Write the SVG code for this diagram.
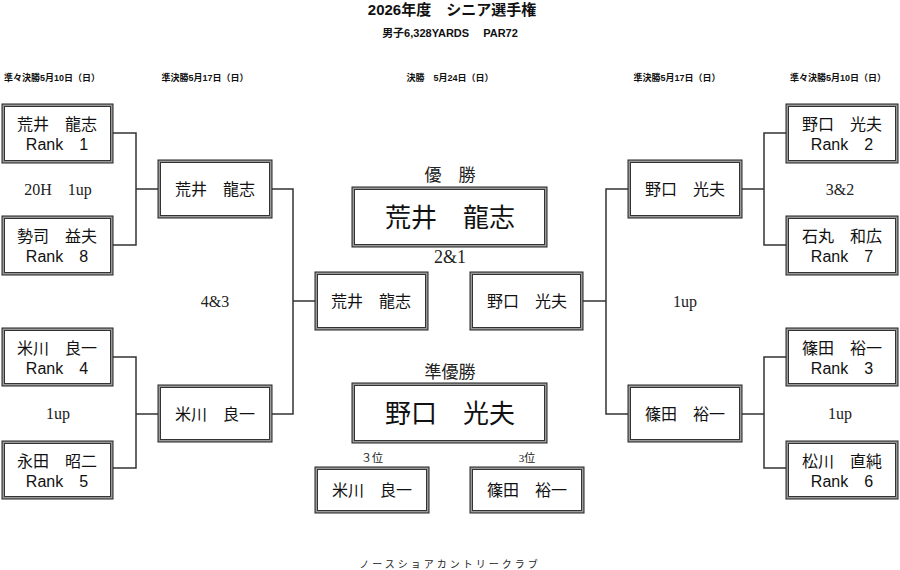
<svg xmlns="http://www.w3.org/2000/svg" width="900" height="570" viewBox="0 0 900 570">
<style>
.o{fill:#999;stroke:#222;stroke-width:1}
.i{fill:#fff;stroke:#333;stroke-width:1}
.n{font-family:"Liberation Sans","Noto Sans CJK JP",sans-serif;font-size:16px;fill:#111;text-anchor:middle}
.big{font-size:26px}
.h{font-family:"Liberation Sans","Noto Sans CJK JP",sans-serif;font-weight:bold;fill:#111;text-anchor:middle}
.s{font-family:"Liberation Serif","Noto Sans CJK JP",serif;fill:#222;text-anchor:middle}
.c{fill:none;stroke:#333;stroke-width:1.5}
</style>
<rect width="900" height="570" fill="#fff"/>
<text class="h" x="452" y="15" font-size="15">2026年度　シニア選手権</text>
<text class="h" x="450" y="37" font-size="11">男子6,328YARDS　 PAR72</text>
<text class="h" x="52" y="81" font-size="9">準々決勝5月10日（日）</text>
<text class="h" x="205" y="81" font-size="9">準決勝5月17日（日）</text>
<text class="h" x="450" y="81" font-size="9">決勝　5月24日（日）</text>
<text class="h" x="677" y="81" font-size="9">準決勝5月17日（日）</text>
<text class="h" x="838" y="81" font-size="9">準々決勝5月10日（日）</text>

<g id="connectors">
<path class="c" d="M113,133 H136 V245 H113 M136,189 H158"/>
<path class="c" d="M113,357 H136 V468 H113 M136,414 H158"/>
<path class="c" d="M272,189 H293 V414 H272 M293,301 H315"/>
<path class="c" d="M786,133 H764 V245 H786 M764,189 H742"/>
<path class="c" d="M786,357 H764 V468 H786 M764,414 H742"/>
<path class="c" d="M628,189 H606 V414 H628 M606,301 H583"/>
</g>

<g id="qf-l1"><rect class="o" x="2" y="104" width="111" height="59"/><rect class="i" x="4.5" y="106.5" width="106" height="54"/><text class="n" x="57" y="130">荒井　龍志</text><text class="n" x="57" y="150">Rank　1</text></g>
<g id="qf-l2"><rect class="o" x="2" y="216" width="111" height="59"/><rect class="i" x="4.5" y="218.5" width="106" height="54"/><text class="n" x="57" y="242">勢司　益夫</text><text class="n" x="57" y="262">Rank　8</text></g>
<g id="qf-l3"><rect class="o" x="2" y="328" width="111" height="58"/><rect class="i" x="4.5" y="330.5" width="106" height="53"/><text class="n" x="57" y="354">米川　良一</text><text class="n" x="57" y="374">Rank　4</text></g>
<g id="qf-l4"><rect class="o" x="2" y="441" width="111" height="58"/><rect class="i" x="4.5" y="443.5" width="106" height="53"/><text class="n" x="57" y="467">永田　昭二</text><text class="n" x="57" y="487">Rank　5</text></g>

<g id="qf-r1"><rect class="o" x="786" y="104" width="112" height="59"/><rect class="i" x="788.5" y="106.5" width="107" height="54"/><text class="n" x="842" y="130">野口　光夫</text><text class="n" x="842" y="150">Rank　2</text></g>
<g id="qf-r2"><rect class="o" x="786" y="216" width="112" height="59"/><rect class="i" x="788.5" y="218.5" width="107" height="54"/><text class="n" x="842" y="242">石丸　和広</text><text class="n" x="842" y="262">Rank　7</text></g>
<g id="qf-r3"><rect class="o" x="786" y="328" width="112" height="58"/><rect class="i" x="788.5" y="330.5" width="107" height="53"/><text class="n" x="842" y="354">篠田　裕一</text><text class="n" x="842" y="374">Rank　3</text></g>
<g id="qf-r4"><rect class="o" x="786" y="441" width="112" height="58"/><rect class="i" x="788.5" y="443.5" width="107" height="53"/><text class="n" x="842" y="467">松川　直純</text><text class="n" x="842" y="487">Rank　6</text></g>

<g id="sf-l1"><rect class="o" x="158" y="160" width="114" height="58"/><rect class="i" x="160.5" y="162.5" width="109" height="53"/><text class="n" x="215" y="195">荒井　龍志</text></g>
<g id="sf-l2"><rect class="o" x="158" y="385" width="114" height="57"/><rect class="i" x="160.5" y="387.5" width="109" height="52"/><text class="n" x="215" y="420">米川　良一</text></g>
<g id="sf-r1"><rect class="o" x="628" y="160" width="114" height="58"/><rect class="i" x="630.5" y="162.5" width="109" height="53"/><text class="n" x="685" y="195">野口　光夫</text></g>
<g id="sf-r2"><rect class="o" x="628" y="385" width="114" height="57"/><rect class="i" x="630.5" y="387.5" width="109" height="52"/><text class="n" x="685" y="420">篠田　裕一</text></g>

<g id="f-l"><rect class="o" x="315" y="272" width="113" height="58"/><rect class="i" x="317.5" y="274.5" width="108" height="53"/><text class="n" x="371" y="307">荒井　龍志</text></g>
<g id="f-r"><rect class="o" x="470" y="272" width="113" height="58"/><rect class="i" x="472.5" y="274.5" width="108" height="53"/><text class="n" x="527" y="307">野口　光夫</text></g>

<g id="champion"><text class="s" x="450" y="181" font-size="17">優　勝</text><rect class="o" x="352" y="187" width="195" height="60"/><rect class="i" x="354.5" y="189.5" width="190" height="55"/><text class="n big" x="450" y="227">荒井　龍志</text></g>
<text class="s" x="450" y="263" font-size="18">2&amp;1</text>
<g id="runnerup"><text class="s" x="450" y="378" font-size="17">準優勝</text><rect class="o" x="352" y="383" width="195" height="60"/><rect class="i" x="354.5" y="385.5" width="190" height="55"/><text class="n big" x="450" y="423">野口　光夫</text></g>
<g id="third-l"><text class="s" x="372" y="462" font-size="11">３位</text><rect class="o" x="315" y="467" width="114" height="46"/><rect class="i" x="317.5" y="469.5" width="109" height="41"/><text class="n" x="372" y="496">米川　良一</text></g>
<g id="third-r"><text class="s" x="527" y="462" font-size="11">3位</text><rect class="o" x="470" y="467" width="114" height="46"/><rect class="i" x="472.5" y="469.5" width="109" height="41"/><text class="n" x="527" y="496">篠田　裕一</text></g>

<text class="s" x="58" y="195" font-size="16" xml:space="preserve">20H　1up</text>
<text class="s" x="215" y="307" font-size="16">4&amp;3</text>
<text class="s" x="58" y="419" font-size="16">1up</text>
<text class="s" x="840" y="195" font-size="16">3&amp;2</text>
<text class="s" x="685" y="307" font-size="16">1up</text>
<text class="s" x="840" y="419" font-size="16">1up</text>

<text class="s" x="450" y="568" font-size="10" letter-spacing="3">ノースショアカントリークラブ</text>
</svg>
